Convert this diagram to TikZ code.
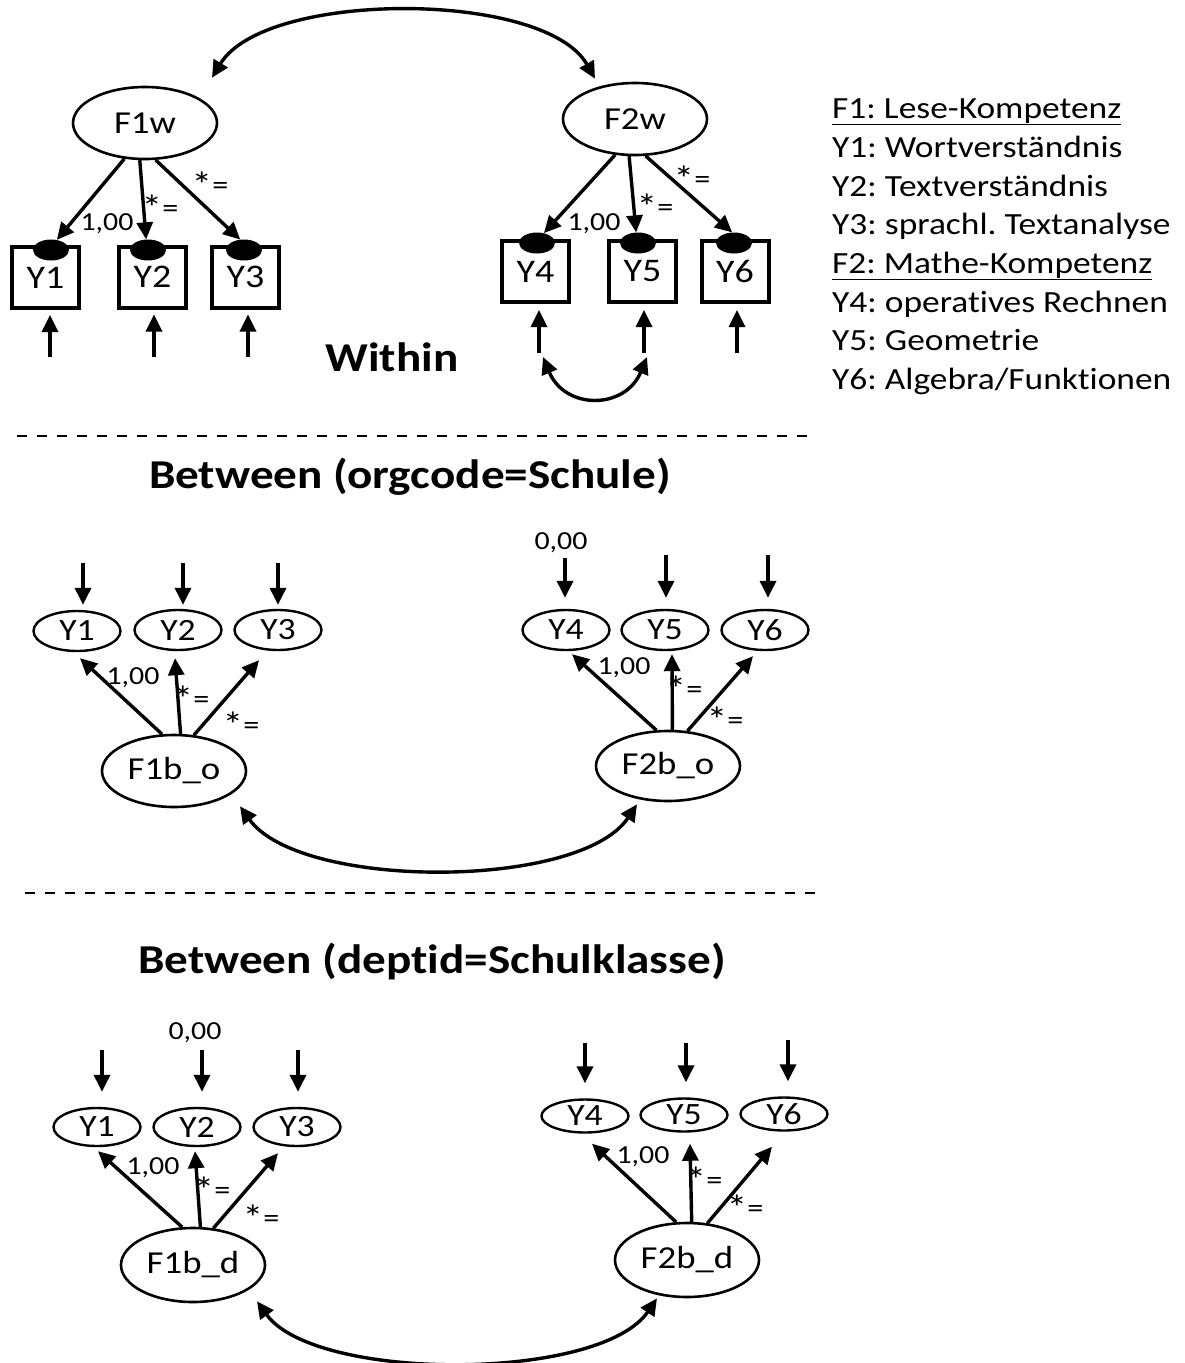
\documentclass[tikz,border=0pt]{standalone}
\usepackage{fontspec}
\setmainfont{Carlito}[FakeStretch=1.15,Ligatures=NoCommon]
\usetikzlibrary{arrows.meta,shapes.geometric,calc}
\frenchspacing
\newcommand{\fixstar}{{\fontsize{36}{36}\selectfont\raisebox{-3pt}{*}}=}

\begin{document}
\begin{tikzpicture}[x=1pt,y=-1pt,
  lat/.style={draw,ellipse,line width=2.6pt,inner sep=0pt,minimum width=144pt,minimum height=72pt,font=\fontsize{32}{32}\selectfont},
  obs/.style={draw,ellipse,line width=2.4pt,inner sep=0pt,minimum width=87pt,minimum height=40pt,font=\fontsize{31}{31}\selectfont},
  box/.style={draw,rectangle,line width=4pt,inner sep=0pt,minimum width=67pt,minimum height=61pt,font=\fontsize{33}{33}\selectfont},
  dot/.style={fill=black,ellipse,inner sep=0pt,minimum width=36pt,minimum height=21pt},
  arr/.style={line width=3.4pt,-{Triangle[length=17pt,width=16pt]}},
  dbl/.style={line width=3.4pt,{Triangle[length=17pt,width=16pt]}-{Triangle[length=17pt,width=16pt]}},
  lbl/.style={font=\fontsize{26}{26}\selectfont,inner sep=0pt},
  star/.style={font=\fontsize{28}{28}\selectfont,inner sep=0pt},
  title/.style={font=\fontsize{41}{44}\selectfont\bfseries,inner sep=0pt},
  legend/.style={anchor=base west,inner sep=0pt,font=\fontsize{30.8}{32}\selectfont},
  sep/.style={line width=2.5pt,dash pattern=on 10pt off 10pt}
]
\useasboundingbox[fill=white] (0,0) rectangle (1184,1363);

% ---------------- Within ----------------
\node[lat] (F1w) at (145,123) {F1w};
\node[lat] (F2w) at (635,119) {F2w};

\node[box] (Y1w) at (45.5,277.5) {Y1};
\node[box] (Y2w) at (152.5,277) {Y2};
\node[box] (Y3w) at (245.5,277) {Y3};
\node[box] (Y4w) at (535.5,271.5) {Y4};
\node[box] (Y5w) at (642.5,271.5) {Y5};
\node[box] (Y6w) at (735,271.5) {Y6};

\node[dot] (d1) at (51,250) {};
\node[dot] (d2) at (148,250) {};
\node[dot] (d3) at (244,250) {};
\node[dot] (d4) at (537,243) {};
\node[dot] (d5) at (638,243) {};
\node[dot] (d6) at (734,243) {};

\draw[arr] (F1w.240) -- (d1.60);
\draw[arr] (F1w.262) -- (d2.100);
\draw[arr] (F1w.286) -- (d3.110);
\draw[arr] (F2w.241) -- (d4.55);
\draw[arr] (F2w.261) -- (d5.100);
\draw[arr] (F2w.286) -- (d6.100);

\node[lbl] (w1a) at (107,224) {1,00};
\node[star] (w1b) at (160,208) {\fixstar};
\node[star] (w1c) at (210,185) {\fixstar};
\node[lbl] (w2a) at (594,224) {1,00};
\node[star] (w2b) at (655,207) {\fixstar};
\node[star] (w2c) at (692,179) {\fixstar};

% residual arrows
\coordinate (e1) at (50,357);
\coordinate (e2) at (154,357);
\coordinate (e3) at (248,357);
\coordinate (e4) at (539,353);
\coordinate (e5) at (644,353);
\coordinate (e6) at (737,353);
\draw[arr,shorten >=5pt] (e1) -- (e1 |- Y1w.south);
\draw[arr,shorten >=5pt] (e2) -- (e2 |- Y2w.south);
\draw[arr,shorten >=5pt] (e3) -- (e3 |- Y3w.south);
\draw[arr,shorten >=6pt] (e4) -- (e4 |- Y4w.south);
\draw[arr,shorten >=6pt] (e5) -- (e5 |- Y5w.south);
\draw[arr,shorten >=6pt] (e6) -- (e6 |- Y6w.south);
\draw[dbl] ($(e4)+(4,4)$) .. controls (565,410) and (625,410) .. ($(e5)+(3,4)$);

% factor covariance
\draw[dbl] ($(F1w.north)+(67,-8)$) .. controls (265,-10) and (545,-10) .. ($(F2w.north)+(-40,-3)$);

\node[title] (within) at (392,357) {Within};

% legend
\node[legend] (leg1) at (832,118) {\underline{F1: Lese-Kompetenz}};
\node[legend] (leg2) at (832,157) {Y1: Wortverständnis};
\node[legend] (leg3) at (832,196) {Y2: Textverständnis};
\node[legend] (leg4) at (832,234) {Y3: sprachl. Textanalyse};
\node[legend] (leg5) at (832,273) {\underline{F2: Mathe-Kompetenz}};
\node[legend] (leg6) at (832,312) {Y4: operatives Rechnen};
\node[legend] (leg7) at (832,350) {Y5: Geometrie};
\node[legend] (leg8) at (832,389) {Y6: Algebra/Funktionen};

\draw[sep] (17,436) -- (810,436);

% ---------------- Between (orgcode) ----------------
\node[title] (btw1) at (410,477) {Between (orgcode=Schule)};

\node[obs] (Y1o) at (77,631) {Y1};
\node[obs] (Y2o) at (178,630) {Y2};
\node[obs] (Y3o) at (278,630) {Y3};
\node[obs] (Y4o) at (566,630) {Y4};
\node[obs] (Y5o) at (665,630) {Y5};
\node[obs] (Y6o) at (765,630) {Y6};

\node[lat] (F1bo) at (174,771) {F1b\_o};
\node[lat,minimum height=70pt] (F2bo) at (668,766) {F2b\_o};

\draw[arr] (F1bo.108) -- ($(Y1o.south)+(3,6)$);
\draw[arr] (F1bo.80) -- ($(Y2o.south)+(-3,7)$);
\draw[arr] (F1bo.61) -- ($(Y3o.south)+(-19,9)$);
\draw[arr] (F2bo.108) -- ($(Y4o.south)+(6,3)$);
\draw[arr] (F2bo.83) -- ($(Y5o.south)+(7,3)$);
\draw[arr] (F2bo.61) -- ($(Y6o.south)+(-12,5)$);

\node[lbl] (o1a) at (133,678) {1,00};
\node[star] (o1b) at (191,699) {\fixstar};
\node[star] (o1c) at (241,725) {\fixstar};
\node[lbl] (o2a) at (624,668) {1,00};
\node[star] (o2b) at (684,689) {\fixstar};
\node[star] (o2c) at (725,720) {\fixstar};

\coordinate (u1) at (83,563);
\coordinate (u2) at (183,563);
\coordinate (u3) at (278,563);
\coordinate (u4) at (565,558);
\coordinate (u5) at (666,555);
\coordinate (u6) at (768,555);
\draw[arr,shorten >=5pt] (u1) -- (u1 |- Y1o.north);
\draw[arr,shorten >=4pt] (u2) -- (u2 |- Y2o.north);
\draw[arr,shorten >=4pt] (u3) -- (u3 |- Y3o.north);
\draw[arr,shorten >=11pt] (u4) -- (u4 |- Y4o.north);
\draw[arr,shorten >=11pt] (u5) -- (u5 |- Y5o.north);
\draw[arr,shorten >=11pt] (u6) -- (u6 |- Y6o.north);
\node[lbl] (z1) at (561,543) {0,00};

\draw[dbl] ($(F1bo.south)+(66,-2)$) .. controls (300,890) and (580,890) .. ($(F2bo.south)+(-31,2)$);

\draw[sep] (25,893) -- (815,893);

% ---------------- Between (deptid) ----------------
\node[title] (btw2) at (432,961) {Between (deptid=Schulklasse)};

\node[obs,minimum height=38pt] (Y1d) at (97,1127) {Y1};
\node[obs,minimum height=38pt] (Y2d) at (197,1127) {Y2};
\node[obs,minimum height=38pt] (Y3d) at (297,1127) {Y3};
\node[obs,minimum height=33pt] (Y4d) at (585,1116) {Y4};
\node[obs,minimum height=33pt] (Y5d) at (684,1115) {Y5};
\node[obs,minimum height=33pt] (Y6d) at (784,1114) {Y6};

\node[lat,minimum height=74pt] (F1bd) at (193,1265) {F1b\_d};
\node[lat,minimum height=74pt] (F2bd) at (687,1260) {F2b\_d};

\draw[arr] (F1bd.106) -- ($(Y1d.south)+(1,4)$);
\draw[arr] (F1bd.79) -- ($(Y2d.south)+(-2,4)$);
\draw[arr] (F1bd.61) -- ($(Y3d.south)+(-19,6)$);
\draw[arr] (F2bd.106) -- ($(Y4d.south)+(7,10)$);
\draw[arr] (F2bd.83) -- ($(Y5d.south)+(6,11)$);
\draw[arr] (F2bd.61) -- ($(Y6d.south)+(-12,15)$);

\node[lbl] (b1a) at (153,1168) {1,00};
\node[star] (b1b) at (212,1190) {\fixstar};
\node[star] (b1c) at (261,1218) {\fixstar};
\node[lbl] (b2a) at (643,1157) {1,00};
\node[star] (b2b) at (704,1180) {\fixstar};
\node[star] (b2c) at (745,1208) {\fixstar};

\coordinate (v1) at (102,1050);
\coordinate (v2) at (202,1050);
\coordinate (v3) at (298,1050);
\coordinate (v4) at (585,1043);
\coordinate (v5) at (686,1043);
\coordinate (v6) at (788,1040);
\draw[arr,shorten >=15pt] (v1) -- (v1 |- Y1d.north);
\draw[arr,shorten >=15pt] (v2) -- (v2 |- Y2d.north);
\draw[arr,shorten >=15pt] (v3) -- (v3 |- Y3d.north);
\draw[arr,shorten >=15pt] (v4) -- (v4 |- Y4d.north);
\draw[arr,shorten >=15pt] (v5) -- (v5 |- Y5d.north);
\draw[arr,shorten >=15pt] (v6) -- (v6 |- Y6d.north);
\node[lbl] (z2) at (195,1033) {0,00};

\draw[dbl] ($(F1bd.south)+(64,-2)$) .. controls (315,1382) and (600,1382) .. ($(F2bd.south)+(-30,0)$);

\end{tikzpicture}
\end{document}
